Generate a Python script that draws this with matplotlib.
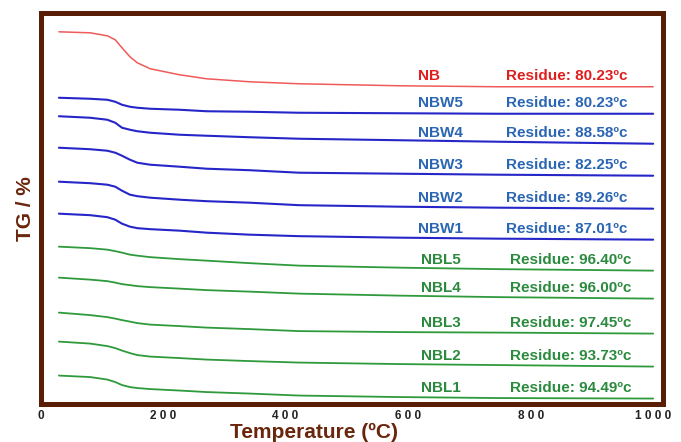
import matplotlib.pyplot as plt

# temperature grid (deg C) where the curves were read
temperature = [30, 81, 109, 122, 133, 146, 158, 179, 227, 271, 341, 422, 585, 747, 1000]

# stacked TG signal (arbitrary offset units), top curve first
nb = [372, 371, 368, 364, 356, 347, 341, 335, 329, 325, 322, 320, 318, 317, 317]
nbw5 = [306, 305, 304, 302, 299, 297, 296, 295, 294, 292.5, 292, 291, 290.5, 290, 290]
nbw4 = [287.5, 286, 284, 281, 276, 274, 272.5, 271, 269, 268, 266.5, 265, 263.5, 262, 260]
nbw3 = [256, 254.5, 253, 251, 248, 244, 241, 239, 237, 235, 233.5, 231, 230, 229, 228]
nbw2 = [222, 220.5, 219, 217, 213, 209, 207.5, 206, 204, 202.5, 201, 198.5, 197, 196, 195]
nbw1 = [190, 188.5, 186.5, 184, 180, 177, 175.5, 174.5, 173, 171, 169, 167.5, 166, 165, 164]
nbl5 = [157, 155.5, 154, 152.5, 151, 149, 148, 146.5, 144.5, 143, 140.5, 138, 136, 134.5, 133]
nbl4 = [126, 124, 122.5, 121, 119.5, 118.5, 117.5, 116.5, 115, 113.5, 112, 110, 108, 106.5, 105]
nbl3 = [91, 88.5, 86.5, 85, 83.5, 82, 80.5, 79, 77.5, 76, 74.5, 72.5, 71.5, 71, 70]
nbl2 = [62, 60, 57.5, 55.5, 53, 50.5, 48.5, 47, 45.5, 44, 42.5, 41, 39.5, 38.5, 37]
nbl1 = [28, 26.5, 24, 21.5, 18.5, 16.5, 15.5, 14.5, 13, 11.5, 10, 8, 6.5, 5.5, 5]

names = ['NB', 'NBW5', 'NBW4', 'NBW3', 'NBW2', 'NBW1', 'NBL5', 'NBL4', 'NBL3', 'NBL2', 'NBL1']
residues = ['80.23', '80.23', '88.58', '82.25', '89.26', '87.01', '96.40', '96.00', '97.45', '93.73', '94.49']
curves = [nb, nbw5, nbw4, nbw3, nbw2, nbw1, nbl5, nbl4, nbl3, nbl2, nbl1]
x_ticks = [0, 200, 400, 600, 800, 1000]

BROWN = '#5a1e06'
styles = {
    'NB': ('#f05a5a', '#e01e1e', 1.1),
    'NBW': ('#2626c8', '#2a66b4', 1.5),
    'NBL': ('#2f9a3c', '#2b8a3e', 1.3),
}

if __name__ == '__main__':
    plt.rcParams['font.family'] = ['Liberation Sans', 'DejaVu Sans']
    fig = plt.figure(figsize=(6.81, 4.42), dpi=100)
    ax = fig.add_axes([0.0595, 0.087, 0.914, 0.884])

    for name, res, ys in zip(names, residues, curves):
        group = 'NBW' if name.startswith('NBW') else ('NBL' if name.startswith('NBL') else 'NB')
        line_col, text_col, lw = styles[group]
        ax.plot(temperature, ys, color=line_col, lw=lw, solid_capstyle='round')
        label_y = ys[-1] + 11
        name_x, res_x = (621, 767) if group == 'NBL' else (616, 760)
        ax.text(name_x, label_y, name, color=text_col, fontsize=11,
                fontweight='bold', ha='left', va='center')
        ax.text(res_x, label_y, 'Residue: ' + res + 'ºc', color=text_col,
                fontsize=11, fontweight='bold', ha='left', va='center')

    ax.set_xlim(0, 1016)
    ax.set_ylim(0, 391)
    ax.set_xticks(x_ticks)
    ax.set_xticklabels([' '.join(str(t)) for t in x_ticks], fontsize=8.5,
                       fontweight='bold', color='#222222')
    ax.tick_params(axis='x', length=0, pad=5)
    ax.set_yticks([])

    for side in ax.spines.values():
        side.set_color(BROWN)
        side.set_linewidth(3.6)

    ax.set_xlabel('Temperature (ºC)', fontsize=15, fontweight='bold',
                  color='#6a260c', labelpad=0)
    ax.xaxis.set_label_coords(0.44, -0.049, transform=ax.transAxes)
    ax.xaxis.label.set_va('top')
    ax.set_ylabel('TG / %', fontsize=15, fontweight='bold', color='#6a260c', labelpad=4)

    fig.savefig('out.png', dpi=100)
